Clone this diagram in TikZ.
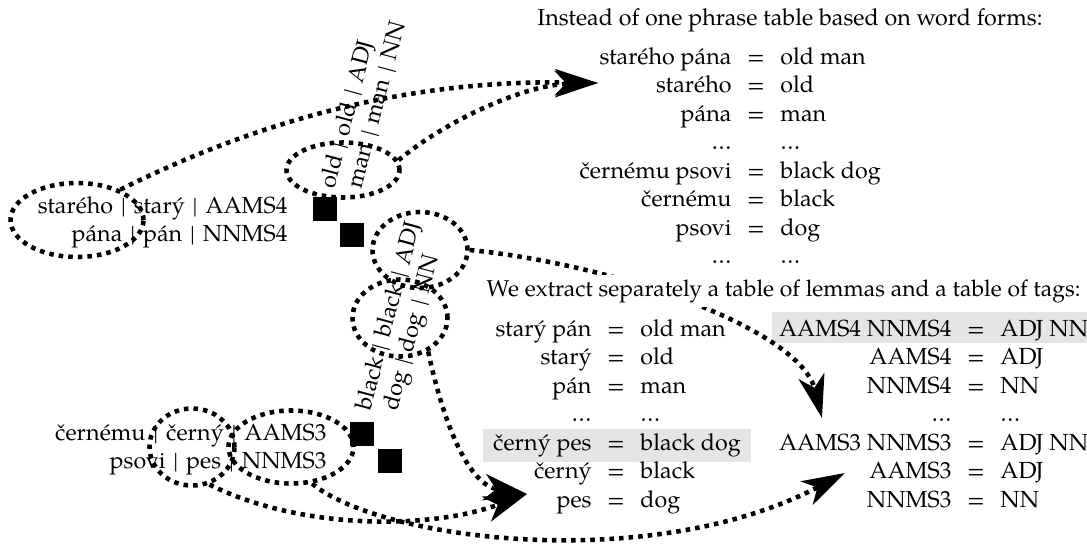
\documentclass[tikz,border=0pt]{standalone}
\usepackage{fontspec}
\setmainfont{TeX Gyre Pagella}
\usetikzlibrary{arrows.meta,shapes.geometric}
\newcommand{\pxu}[1]{#1*0.41667pt}
\newcommand{\bsep}{\hspace{3.3pt}|\hspace{3.3pt}}
\tikzset{
  dotline/.style={line width=1.9pt, dash pattern=on 1.9pt off 2.1pt},
  arr/.style={dotline, -{Stealth[length=18pt,width=11pt,inset=5pt]}},
  oval/.style={ellipse, draw, dotline, inner sep=0pt},
  sqbox/.style={fill=black, minimum size=10pt, inner sep=0pt},
  txt/.style={inner sep=0pt, font=\fontsize{9.7}{11.9}\selectfont},
  rot/.style={txt, rotate=75, anchor=base west},
  hl/.style={fill=black!10, draw=none}
}
\begin{document}
\begin{tikzpicture}[x=0.41667pt, y=-0.41667pt]
\useasboundingbox (0,0) rectangle (1087,545);

% highlight boxes
\fill[black!10] (483,429) rectangle (751,462);
\fill[black!10] (772,312) rectangle (1087,343);

% left source words
\node[txt, anchor=base east] (src1) at (288,213) {\begin{tabular}[t]{@{}r@{}}starého\bsep starý\bsep AAMS4\\ pána\bsep pán\bsep NNMS4\end{tabular}};
\node[txt, anchor=base east] (src2) at (327,440) {\begin{tabular}[t]{@{}r@{}}černému\bsep černý\bsep AAMS3\\ psovi\bsep pes\bsep NNMS3\end{tabular}};

% alignment squares
\node[sqbox] (sq1) at (325,209) {};
\node[sqbox] (sq2) at (352,235) {};
\node[sqbox] (sq3) at (362,434) {};
\node[sqbox] (sq4) at (390,461) {};

% rotated target words
\node[rot] (tg1) at (334,190) {old\bsep old\bsep ADJ};
\node[rot] (tg2) at (361,190) {man\bsep man\bsep NN};
\node[rot] (tg3) at (370,412) {black\bsep black\bsep ADJ};
\node[rot] (tg4) at (397,412) {dog\bsep dog\bsep NN};

% ellipses
\node[oval, minimum width=\pxu{133}, minimum height=\pxu{74}] (e1) at (77,220) {};
\node[oval, minimum width=\pxu{113}, minimum height=\pxu{55}] (e2) at (343,170) {};
\node[oval, minimum width=\pxu{95}, minimum height=\pxu{76}] (e3) at (420,250) {};
\node[oval, minimum width=\pxu{95}, minimum height=\pxu{77}] (e4) at (400,318) {};
\node[oval, minimum width=\pxu{85}, minimum height=\pxu{77}] (e5) at (192,447) {};
\node[oval, minimum width=\pxu{125}, minimum height=\pxu{73}] (e6) at (291,447) {};

% arrow targets
\coordinate (tipA) at (598,83);
\coordinate (tipB) at (822,418);
\coordinate (tipC) at (527,494);
\coordinate (tipD) at (845,473);

% connectors
\draw[arr] (e1.35) .. controls (280,110) and (430,80) .. (tipA);
\draw[arr] (e2.10) .. controls (440,125) and (520,85) .. (tipA);
\draw[arr] (e3.east) .. controls (620,265) and (800,330) .. (tipB);
\draw[arr] (e4.-50) .. controls (445,430) and (470,485) .. (tipC);
\draw[arr] (e5.-65) .. controls (300,530) and (430,530) .. (tipC);
\draw[arr] (e6.-60) .. controls (380,540) and (650,575) .. (tipD);

% headers
\node[txt, anchor=base west] (h1) at (537,25) {Instead of one phrase table based on word forms:};
\node[txt, font=\fontsize{9.55}{11.9}\selectfont, anchor=base west, fill=white, inner xsep=0.5pt, inner ysep=2pt] (h2) at (485,296) {We extract separately a table of lemmas and a table of tags:};

% top table
\node[txt, anchor=base east] (t1l) at (732,64) {\begin{tabular}[t]{@{}r@{}}starého pána\\ starého\\ pána\\ \dots\\ černému psovi\\ černému\\ psovi\\ \dots\end{tabular}};
\node[txt, anchor=base] (t1m) at (756,64) {\begin{tabular}[t]{@{}c@{}}=\\ =\\ =\\ \\ =\\ =\\ =\\ \end{tabular}};
\node[txt, anchor=base west] (t1r) at (780,64) {\begin{tabular}[t]{@{}l@{}}old man\\ old\\ man\\ \dots\\ black dog\\ black\\ dog\\ \dots\end{tabular}};

% lemma table
\node[txt, anchor=base east] (t2l) at (592,336) {\begin{tabular}[t]{@{}r@{}}starý pán\\ starý\\ pán\\ \dots\\ černý pes\\ černý\\ pes\end{tabular}};
\node[txt, anchor=base] (t2m) at (616,336) {\begin{tabular}[t]{@{}c@{}}=\\ =\\ =\\ \\ =\\ =\\ =\end{tabular}};
\node[txt, anchor=base west] (t2r) at (640,336) {\begin{tabular}[t]{@{}l@{}}old man\\ old\\ man\\ \dots\\ black dog\\ black\\ dog\end{tabular}};

% tag table
\node[txt, anchor=base east] (t3l) at (952,336) {\begin{tabular}[t]{@{}r@{}}AAMS4 NNMS4\\ AAMS4\\ NNMS4\\ \dots\\ AAMS3 NNMS3\\ AAMS3\\ NNMS3\end{tabular}};
\node[txt, anchor=base] (t3m) at (976,336) {\begin{tabular}[t]{@{}c@{}}=\\ =\\ =\\ \\ =\\ =\\ =\end{tabular}};
\node[txt, anchor=base west] (t3r) at (1000,336) {\begin{tabular}[t]{@{}l@{}}ADJ NN\\ ADJ\\ NN\\ \dots\\ ADJ NN\\ ADJ\\ NN\end{tabular}};
\end{tikzpicture}
\end{document}
